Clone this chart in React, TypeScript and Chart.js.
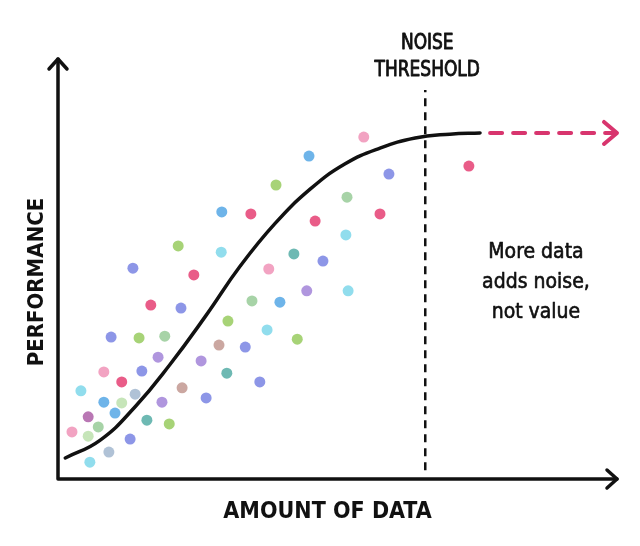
import { useEffect, useRef } from "react";
import { Chart, registerables } from "chart.js";

Chart.register(...registerables);

// amount of data (x) vs performance (y), both on a 0..10 scale
const curveX = [0.13, 0.75, 1.38, 2.0, 2.63, 3.26, 3.88, 4.51, 5.13, 5.76, 6.39, 7.01, 7.55];
const curveY = [0.5, 0.92, 1.72, 2.72, 3.86, 5.07, 6.08, 6.9, 7.5, 7.88, 8.12, 8.21, 8.24];

const dotX = [
  2.15, 2.92, 1.34, 2.43, 3.77, 1.66, 2.2, 3.47, 3.97, 3.04, 0.95, 1.45, 1.91, 3.74,
  2.88, 3.35, 1.79, 2.56, 0.82, 1.5, 1.14, 3.02, 3.61, 0.41, 1.38, 2.22, 0.82, 1.14,
  1.86, 2.65, 1.02, 0.54, 0.72, 1.59, 1.99, 0.25, 0.54, 1.29, 0.91, 0.57, 5.47, 4.49,
  5.92, 3.9, 5.17, 2.93, 3.45, 4.6, 5.76, 5.15, 4.22, 4.74, 4.45, 5.19, 4.28, 7.35,
];
const dotY = [
  5.55, 5.4, 5.02, 4.86, 5.0, 4.14, 4.07, 4.24, 4.21, 3.76, 3.38, 3.36, 3.4, 3.55,
  3.19, 3.14, 2.9, 2.81, 2.55, 2.57, 2.31, 2.52, 2.31, 2.1, 2.02, 2.17, 1.83, 1.81,
  1.83, 1.93, 1.57, 1.48, 1.24, 1.4, 1.31, 1.12, 1.02, 0.95, 0.64, 0.4, 8.14, 7.69,
  7.26, 7.0, 6.71, 6.36, 6.31, 6.14, 6.31, 5.81, 5.36, 5.19, 4.48, 4.48, 3.33, 7.45,
];

const thresholdX = 6.57;
const thresholdRange = [0.21, 9.26];
const plateauY = 8.24;
const arrowRange = [7.73, 10];

const thresholdLabel = ["NOISE", "THRESHOLD"];
const noteLines = ["More data", "adds noise,", "not value"];
const xTitle = "AMOUNT OF DATA";
const yTitle = "PERFORMANCE";

const RED = "rgba(230,70,120,0.88)";
const PINK = "rgba(240,150,185,0.88)";
const VIOLET = "rgba(125,135,228,0.88)";
const PURPLE = "rgba(165,135,218,0.88)";
const GREEN = "rgba(155,205,100,0.88)";
const SAGE = "rgba(155,205,155,0.88)";
const CYAN = "rgba(130,216,234,0.88)";
const BLUE = "rgba(90,170,230,0.88)";
const TEAL = "rgba(90,175,168,0.88)";
const TAN = "rgba(196,155,148,0.88)";
const GREYBLUE = "rgba(165,185,208,0.88)";
const MAGENTA = "rgba(175,100,170,0.88)";
const PALEGREEN = "rgba(190,225,175,0.88)";

const dotColors = [
  GREEN, CYAN, VIOLET, RED, PINK, RED, VIOLET, SAGE, BLUE, GREEN, VIOLET, GREEN, SAGE, CYAN,
  TAN, VIOLET, PURPLE, PURPLE, PINK, VIOLET, RED, TEAL, VIOLET, CYAN, GREYBLUE, TAN, BLUE, PALEGREEN,
  PURPLE, VIOLET, BLUE, MAGENTA, SAGE, TEAL, GREEN, PINK, PALEGREEN, VIOLET, GREYBLUE, CYAN, PINK, BLUE,
  VIOLET, GREEN, SAGE, BLUE, RED, RED, RED, CYAN, TEAL, VIOLET, PURPLE, CYAN, GREEN, RED,
];

const FONT = "'DejaVu Sans Condensed', 'DejaVu Sans', sans-serif";
const ARROW_PINK = "#d8356e";

// fill + thin stroke to get a medium weight
function drawText(ctx: CanvasRenderingContext2D, text: string, x: number, y: number, sx = 1, stroke = 0) {
  ctx.save();
  ctx.translate(x, y);
  ctx.scale(sx, 1);
  ctx.fillText(text, 0, 0);
  if (stroke > 0) {
    ctx.lineWidth = stroke;
    ctx.strokeText(text, 0, 0);
  }
  ctx.restore();
}

const decorPlugin = {
  id: "decor",
  afterDatasetsDraw(chart: Chart) {
    const { ctx } = chart;
    const xs = chart.scales.x;
    const ys = chart.scales.y;
    const x0 = xs.getPixelForValue(0);
    const y0 = ys.getPixelForValue(0);
    const xEnd = xs.getPixelForValue(10);
    const yEnd = ys.getPixelForValue(10);

    ctx.save();
    ctx.strokeStyle = "#111";
    ctx.lineWidth = 3.5;
    ctx.lineCap = "round";
    ctx.lineJoin = "round";
    // axes
    ctx.beginPath();
    ctx.moveTo(x0, yEnd);
    ctx.lineTo(x0, y0);
    ctx.lineTo(xEnd, y0);
    ctx.stroke();
    // y arrow
    ctx.beginPath();
    ctx.moveTo(x0 - 9, yEnd + 10);
    ctx.lineTo(x0, yEnd);
    ctx.lineTo(x0 + 9, yEnd + 10);
    ctx.stroke();
    // x arrow
    ctx.beginPath();
    ctx.moveTo(xEnd - 10, y0 - 9);
    ctx.lineTo(xEnd, y0);
    ctx.lineTo(xEnd - 10, y0 + 9);
    ctx.stroke();

    // pink arrow head
    const ax = xs.getPixelForValue(arrowRange[1]);
    const ay = ys.getPixelForValue(plateauY);
    ctx.strokeStyle = ARROW_PINK;
    ctx.lineWidth = 4;
    ctx.beginPath();
    ctx.moveTo(ax - 13, ay - 11);
    ctx.lineTo(ax, ay);
    ctx.lineTo(ax - 13, ay + 11);
    ctx.stroke();

    // texts
    ctx.fillStyle = "#111";
    ctx.strokeStyle = "#111";
    ctx.lineJoin = "round";
    ctx.textAlign = "center";
    ctx.textBaseline = "middle";
    const tx = xs.getPixelForValue(thresholdX);
    ctx.font = `22px ${FONT}`;
    drawText(ctx, thresholdLabel[0], tx + 2, 43, 0.86, 0.9);
    drawText(ctx, thresholdLabel[1], tx + 2, 70, 0.86, 0.9);

    const nx = xs.getPixelForValue(8.55);
    ctx.font = `21px ${FONT}`;
    noteLines.forEach((line, i) => drawText(ctx, line, nx, 253 + i * 30, 1, 0.6));

    ctx.font = `bold 23px ${FONT}`;
    drawText(ctx, xTitle, (x0 + xEnd) / 2 - 10, 512);

    ctx.save();
    ctx.translate(37, (yEnd + y0) / 2 + 13);
    ctx.rotate(-Math.PI / 2);
    ctx.font = `bold 22px ${FONT}`;
    ctx.fillText(yTitle, 0, 0);
    ctx.restore();
    ctx.restore();
  },
};

export default function App() {
  const canvasRef = useRef<HTMLCanvasElement>(null);

  useEffect(() => {
    if (!canvasRef.current) return;
    document.body.style.margin = "0";

    const chart = new Chart(canvasRef.current, {
      type: "scatter",
      data: {
        datasets: [
          {
            type: "line",
            data: [
              { x: thresholdX, y: thresholdRange[0] },
              { x: thresholdX, y: thresholdRange[1] },
            ],
            borderColor: "#111",
            borderWidth: 2.5,
            borderDash: [8, 6],
            pointRadius: 0,
            clip: false,
          },
          {
            type: "line",
            data: [
              { x: arrowRange[0], y: plateauY },
              { x: arrowRange[1] - 0.05, y: plateauY },
            ],
            borderColor: ARROW_PINK,
            borderWidth: 4,
            borderDash: [12, 11],
            borderCapStyle: "round",
            pointRadius: 0,
            clip: false,
          },
          {
            data: dotX.map((x, i) => ({ x, y: dotY[i] })),
            backgroundColor: dotColors,
            borderWidth: 0,
            pointRadius: 5.5,
          },
          {
            type: "line",
            data: curveX.map((x, i) => ({ x, y: curveY[i] })),
            borderColor: "#111",
            borderWidth: 3.5,
            borderCapStyle: "round",
            pointRadius: 0,
            tension: 0.45,
            clip: false,
          },
        ],
      },
      options: {
        animation: false,
        responsive: false,
        devicePixelRatio: 1,
        layout: { padding: { left: 58, right: 23, top: 59, bottom: 67 } },
        plugins: { legend: { display: false }, tooltip: { enabled: false } },
        scales: {
          x: { type: "linear", min: 0, max: 10, display: false },
          y: { type: "linear", min: 0, max: 10, display: false },
        },
      },
      plugins: [decorPlugin],
    });

    return () => chart.destroy();
  }, []);

  return (
    <div style={{ width: 640, height: 546, background: "#fff" }}>
      <canvas ref={canvasRef} width={640} height={546} />
    </div>
  );
}
